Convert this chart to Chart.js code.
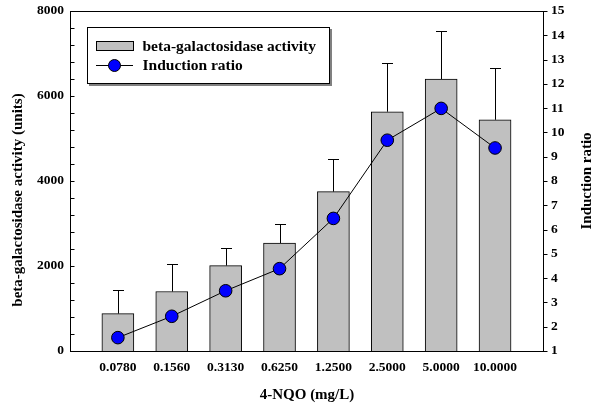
<!DOCTYPE html>
<html>
<head>
<meta charset="utf-8">
<script src="https://cdn.jsdelivr.net/npm/chart.js@4.4.1/dist/chart.umd.min.js"></script>
<style>
  html, body { margin: 0; padding: 0; background: #ffffff; }
  #wrap { width: 593px; height: 404px; }
</style>
</head>
<body>
<div id="wrap"><canvas id="c" width="593" height="404"></canvas></div>
<script>
// ---- data ----
const categories = ["0.0780", "0.1560", "0.3130", "0.6250", "1.2500", "2.5000", "5.0000", "10.0000"];
const activity = [880, 1400, 2010, 2540, 3750, 5630, 6400, 5440];
const activityError = [550, 640, 420, 455, 770, 1140, 1140, 1230];
const inductionRatio = [1.55, 2.43, 3.48, 4.39, 6.46, 9.68, 10.99, 9.36];
const barLabel = "beta-galactosidase activity";
const lineLabel = "Induction ratio";
const xTitle = "4-NQO (mg/L)";
const yTitle = "beta-galactosidase activity (units)";
const y2Title = "Induction ratio";

const FONT = '"Liberation Serif", "Times New Roman", serif';

const errorBarPlugin = {
  id: 'errorBars',
  afterDatasetDraw(chart, args) {
    if (args.index !== 1) return;
    const ctx = chart.ctx, xs = chart.scales.x, ys = chart.scales.y;
    ctx.save();
    ctx.strokeStyle = '#000';
    ctx.lineWidth = 1;
    activity.forEach((v, i) => {
      const x = Math.round(xs.getPixelForValue(i)) + 0.5;
      const y0 = ys.getPixelForValue(v);
      const y1 = Math.round(ys.getPixelForValue(v + activityError[i])) + 0.5;
      ctx.beginPath();
      ctx.moveTo(x, y0);
      ctx.lineTo(x, y1);
      ctx.moveTo(x - 5.5, y1);
      ctx.lineTo(x + 5.5, y1);
      ctx.stroke();
    });
    ctx.restore();
  }
};

const framePlugin = {
  id: 'frame',
  afterDraw(chart) {
    const ctx = chart.ctx, a = chart.chartArea;
    const ys = chart.scales.y, y2 = chart.scales.y2;
    ctx.save();
    ctx.strokeStyle = '#000';
    ctx.lineWidth = 1;
    const L = a.left - 0.5, R = a.right + 0.5, T = a.top + 0.5, B = a.bottom + 0.5;
    ctx.strokeRect(L, T, R - L, B - T);
    // left ticks (inside)
    ctx.beginPath();
    ys.ticks.forEach(t => {
      const y = Math.round(ys.getPixelForValue(t.value)) + 0.5;
      ctx.moveTo(L, y); ctx.lineTo(L + 4, y);
    });
    // right ticks (outside)
    y2.ticks.forEach(t => {
      const y = Math.round(y2.getPixelForValue(t.value)) + 0.5;
      ctx.moveTo(R, y); ctx.lineTo(R + 4, y);
    });
    ctx.stroke();

    // axis titles
    ctx.fillStyle = '#000';
    ctx.font = 'bold 15px ' + FONT;
    ctx.textAlign = 'center';
    ctx.textBaseline = 'middle';
    ctx.fillText(xTitle, 307, 395);
    ctx.save();
    ctx.translate(18, 200);
    ctx.rotate(-Math.PI / 2);
    ctx.fillText(yTitle, 0, 0);
    ctx.restore();
    ctx.save();
    ctx.translate(587, 181);
    ctx.rotate(-Math.PI / 2);
    ctx.fillText(y2Title, 0, 0);
    ctx.restore();

    // legend
    const bx = 87, by = 27, bw = 243, bh = 57;
    ctx.fillStyle = '#808080';
    ctx.fillRect(bx + 2, by + bh, bw, 2);
    ctx.fillRect(bx + bw, by + 2, 2, bh);
    ctx.fillStyle = '#fff';
    ctx.fillRect(bx, by, bw, bh);
    ctx.strokeStyle = '#000';
    ctx.strokeRect(bx + 0.5, by + 0.5, bw - 1, bh - 1);
    // bar swatch
    ctx.fillStyle = '#c0c0c0';
    ctx.fillRect(96.5, 41.5, 37, 9);
    ctx.strokeRect(96.5, 41.5, 37, 9);
    // line swatch
    ctx.beginPath();
    ctx.moveTo(96, 65.5); ctx.lineTo(133, 65.5);
    ctx.stroke();
    ctx.beginPath();
    ctx.arc(114.5, 65.5, 6, 0, Math.PI * 2);
    ctx.fillStyle = '#0000ff';
    ctx.fill();
    ctx.stroke();
    ctx.fillStyle = '#000';
    ctx.textAlign = 'left';
    ctx.font = 'bold 15.5px ' + FONT;
    ctx.fillText(barLabel, 142.5, 46.5);
    ctx.fillText(lineLabel, 142.5, 66);
    ctx.restore();
  }
};

function zeroPad(scale) {
  scale.paddingTop = 0; scale.paddingBottom = 0;
  scale.paddingLeft = 0; scale.paddingRight = 0;
}

new Chart(document.getElementById('c'), {
  data: {
    datasets: [
      {
        type: 'line',
        label: lineLabel,
        yAxisID: 'y2',
        order: 1,
        data: inductionRatio.map((v, i) => ({ x: i, y: v })),
        borderColor: '#000',
        borderWidth: 1,
        pointRadius: 6.3,
        pointBackgroundColor: '#0000ff',
        pointBorderColor: '#000',
        pointBorderWidth: 1,
        tension: 0,
        fill: false
      },
      {
        type: 'bar',
        label: barLabel,
        yAxisID: 'y',
        order: 2,
        data: activity.map((v, i) => ({ x: i, y: v })),
        backgroundColor: '#c0c0c0',
        borderColor: '#000',
        borderWidth: 1,
        borderSkipped: 'bottom',
        barThickness: 32
      }
    ]
  },
  options: {
    responsive: false,
    animation: false,
    layout: { padding: { top: 11, left: 0, right: 0, bottom: 0 } },
    plugins: { legend: { display: false }, tooltip: { enabled: false } },
    scales: {
      x: {
        type: 'linear',
        offset: false,
        min: -0.87,
        max: 7.89,
        grid: { display: false, drawTicks: false, offset: false },
        border: { display: false },
        afterBuildTicks(scale) { scale.ticks = categories.map((_, i) => ({ value: i })); },
        afterFit(scale) { scale.height = 53; zeroPad(scale); },
        ticks: {
          autoSkip: false,
          maxRotation: 0,
          padding: 8,
          color: '#000',
          font: { family: FONT, size: 13.5, weight: 'bold' },
          callback: (v) => categories[v] !== undefined ? categories[v] : ''
        }
      },
      y: {
        position: 'left',
        min: 0,
        max: 8000,
        grid: { display: false, drawTicks: false },
        border: { display: false },
        afterFit(scale) { scale.width = 71; zeroPad(scale); },
        ticks: {
          stepSize: 400,
          autoSkip: false,
          padding: 7,
          color: '#000',
          font: { family: FONT, size: 13.5, weight: 'bold' },
          callback: (v) => (v % 2000 === 0 ? String(v) : '')
        }
      },
      y2: {
        position: 'right',
        min: 1,
        max: 15,
        grid: { display: false, drawTicks: false },
        border: { display: false },
        afterFit(scale) { scale.width = 50; zeroPad(scale); },
        ticks: {
          stepSize: 1,
          autoSkip: false,
          padding: 8,
          color: '#000',
          font: { family: FONT, size: 13.5, weight: 'bold' }
        }
      }
    }
  },
  plugins: [errorBarPlugin, framePlugin]
});
</script>
</body>
</html>
